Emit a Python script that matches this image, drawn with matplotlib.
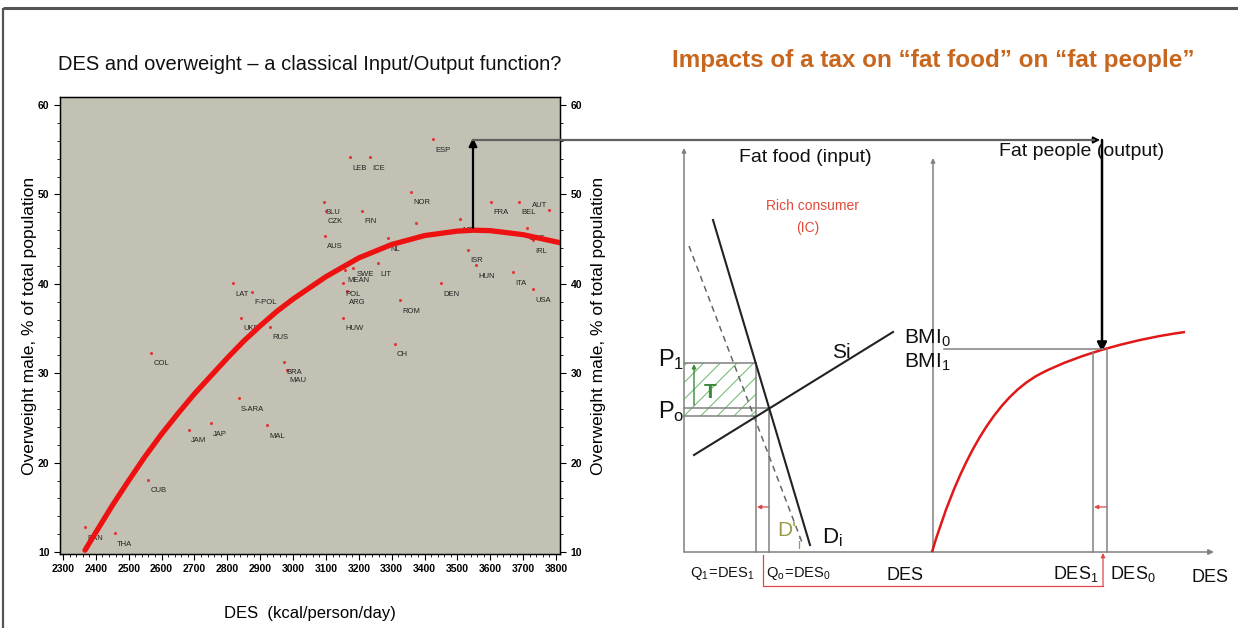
import matplotlib
matplotlib.use("Agg")
import matplotlib.pyplot as plt
from matplotlib.patches import Rectangle, FancyArrowPatch, PathPatch
from matplotlib.path import Path
from matplotlib.ticker import MultipleLocator

W, H = 1238, 628

# ---- Scatter: dietary energy supply vs. male overweight ----
countries = ["ESP", "LEB", "ICE", "NOR", "SLU", "CZK", "FIN", "AUS", "NL", "", "NZL",
             "FRA", "BEL", "AUT", "GRE", "IRL", "ISR", "HUN", "ITA", "USA", "DEN",
             "LIT", "MEAN", "SWE", "POL", "ARG", "HUW", "ROM", "CH", "LAT", "F-POL",
             "UKR", "RUS", "COL", "BRA", "MAU", "S-ARA", "JAP", "JAM", "MAL", "CUB",
             "BAN", "THA"]
des_kcal = [3426, 3173, 3234, 3359, 3094, 3100, 3210, 3097, 3289, 3374, 3508,
            3602, 3687, 3778, 3711, 3729, 3532, 3556, 3669, 3730, 3450,
            3258, 3158, 3182, 3152, 3164, 3152, 3325, 3310, 2817, 2875,
            2842, 2930, 2568, 2972, 2981, 2835, 2750, 2683, 2921, 2559,
            2367, 2458]
overweight_pct = [56.2, 54.2, 54.2, 50.3, 49.2, 48.2, 48.2, 45.4, 45.1, 46.8, 47.2,
                  49.2, 49.2, 48.3, 46.3, 44.9, 43.8, 42.1, 41.3, 39.4, 40.1,
                  42.3, 41.6, 41.8, 40.1, 39.2, 36.2, 38.2, 33.3, 40.1, 39.1,
                  36.2, 35.2, 32.3, 31.3, 30.4, 27.2, 24.4, 23.7, 24.2, 18.1,
                  12.8, 12.1]

# fitted input/output curve
curve_des = [2367, 2400, 2450, 2500, 2550, 2600, 2650, 2700, 2750, 2800, 2850,
             2900, 2950, 3000, 3100, 3200, 3300, 3400, 3500, 3550, 3600, 3700, 3812]
curve_ow = [10.2, 12.2, 15.2, 18.0, 20.7, 23.2, 25.5, 27.7, 29.7, 31.7, 33.6,
            35.3, 36.9, 38.3, 40.8, 42.9, 44.4, 45.4, 45.9, 46.0, 45.95, 45.5, 44.6]

x_ticks = list(range(2300, 3801, 100))
y_ticks = [10, 20, 30, 40, 50, 60]

# ---- Tax diagram (drawn in pixel space of the slide) ----
demand_x, demand_y = [713, 810], [220, 545]
demand_tax_x, demand_tax_y = [689, 803], [246, 545]
supply_x, supply_y = [694, 893], [455, 332]
bmi_path_vertices = [(932, 552), (955, 475), (990, 400), (1040, 374),
                     (1080, 353), (1140, 338), (1185, 332)]

NARROW = ["Liberation Sans Narrow", "Liberation Sans", "DejaVu Sans"]
SANS = ["Liberation Sans", "DejaVu Sans"]

plt.rcParams["hatch.linewidth"] = 0.7

fig = plt.figure(figsize=(W / 100, H / 100), dpi=100)
fig.patch.set_facecolor("white")

ax = fig.add_axes([60 / W, 1 - 554 / H, 500 / W, 457 / H])
ax.set_facecolor("#c3c1b3")
ax.plot(curve_des, curve_ow, color="#ee1111", lw=3.8, solid_capstyle="round",
        solid_joinstyle="round", zorder=3)
ax.scatter(des_kcal, overweight_pct, s=5, color="#e03838", lw=0, zorder=2)

label_style = {"AUT": ((-1, 3), "right"), "SWE": ((3, -5), "left")}
for name, x, y in zip(countries, des_kcal, overweight_pct):
    if not name:
        continue
    off, ha = label_style.get(name, ((1.5, -8), "left"))
    ax.annotate(name, (x, y), xytext=off, textcoords="offset points", ha=ha,
                va="center", fontsize=5.5, color="#222222", family=SANS, zorder=2)

ax.set_xlim(2291, 3812)
ax.set_ylim(9.78, 60.9)
ax.set_xticks(x_ticks)
ax.set_yticks(y_ticks)
ax.xaxis.set_minor_locator(MultipleLocator(20))
ax.yaxis.set_minor_locator(MultipleLocator(2))
ax.tick_params(which="major", direction="out", length=4, width=0.8, labelsize=7.5)
ax.tick_params(which="minor", direction="out", length=2.5, width=0.6)
for lab in ax.get_xticklabels() + ax.get_yticklabels():
    lab.set_family(NARROW)
    lab.set_fontweight("bold")
for sp in ax.spines.values():
    sp.set_color("black")
    sp.set_linewidth(1.0)

ax2 = ax.twinx()
ax2.set_ylim(ax.get_ylim())
ax2.set_yticks(y_ticks)
ax2.yaxis.set_minor_locator(MultipleLocator(2))
ax2.tick_params(which="major", direction="out", length=4, width=0.8, labelsize=7.5)
ax2.tick_params(which="minor", direction="out", length=2.5, width=0.6)
for lab in ax2.get_yticklabels():
    lab.set_family(NARROW)
    lab.set_fontweight("bold")

ylab = "Overweight male, % of total population"
ax.set_ylabel(ylab, fontsize=12.5, family=SANS)
ax.yaxis.set_label_coords(-0.046, 0.5)
ax2.set_ylabel(ylab, fontsize=12.5, family=SANS)
ax2.yaxis.set_label_coords(1.062, 0.5)
ax.set_xlabel("DES  (kcal/person/day)", fontsize=12, family=NARROW)
ax.xaxis.set_label_coords(0.5, -0.114)

# ---- overlay in slide pixel coordinates ----
ov = fig.add_axes([0, 0, 1, 1], zorder=5)
ov.set_xlim(0, W)
ov.set_ylim(H, 0)
ov.axis("off")
ov.patch.set_alpha(0)

# slide frame
ov.plot([3, W], [8, 8], color="#555555", lw=2.2, solid_capstyle="butt")
ov.plot([3, 3], [8, H], color="#555555", lw=1.6, solid_capstyle="butt")

ov.text(310, 65, "DES and overweight \u2013 a classical Input/Output function?",
        ha="center", va="center", fontsize=14.5, family=NARROW, color="#111111")
ov.text(933, 60, "Impacts of a tax on \u201cfat food\u201d on \u201cfat people\u201d",
        ha="center", va="center", fontsize=17.5, family=NARROW, fontweight="bold",
        color="#c8661e")

GRAY = "#808080"


def arrow(x0, y0, x1, y1, color, lw=1.2, head=8):
    ov.add_patch(FancyArrowPatch((x0, y0), (x1, y1), arrowstyle="-|>",
                                 mutation_scale=head, color=color, lw=lw,
                                 shrinkA=0, shrinkB=0))


# link from curve peak to the output panel
arrow(473, 228, 473, 138, "black", lw=1.6, head=12)
ov.plot([473, 1094], [140, 140], color="#606060", lw=1.6)
arrow(1088, 140, 1100, 140, "black", lw=1.2, head=10)
arrow(1102, 140, 1102, 352, "black", lw=1.8, head=14)

# axes of both panels
arrow(684, 552, 684, 148, GRAY, lw=1.1, head=6)
arrow(933, 552, 933, 158, GRAY, lw=1.1, head=6)
arrow(684, 552, 1214, 552, GRAY, lw=1.1, head=8)

# tax wedge
ov.add_patch(Rectangle((684, 363), 72, 53, facecolor="none", edgecolor="#6cb46c",
                       hatch="//", lw=0))
for yy, x1 in [(363, 756), (408, 769), (416, 756)]:
    ov.plot([684, x1], [yy, yy], color=GRAY, lw=1.1)
ov.plot([756, 756], [363, 552], color=GRAY, lw=1.1)
ov.plot([769, 769], [408, 552], color=GRAY, lw=1.1)
arrow(694, 405, 694, 364, "#3a8a3a", lw=1.0, head=6)

ov.plot(demand_x, demand_y, color="#222222", lw=1.5)
ov.plot(demand_tax_x, demand_tax_y, color="#666666", lw=1.1, ls=(0, (4, 3)))
ov.plot(supply_x, supply_y, color="#222222", lw=1.5)

# output panel: saturating BMI response
bmi_codes = [Path.MOVETO] + [Path.CURVE4] * 6
ov.add_patch(PathPatch(Path(bmi_path_vertices, bmi_codes), facecolor="none",
                       edgecolor="#e01818", lw=1.8))
ov.plot([944, 1103], [349, 349], color=GRAY, lw=1.1)
ov.plot([1093, 1093], [352, 552], color=GRAY, lw=1.1)
ov.plot([1107, 1107], [349, 552], color=GRAY, lw=1.1)

# red quantity shift markers
RED = "#e04848"
arrow(769, 507, 757, 507, RED, lw=0.9, head=6)
arrow(1107, 507, 1094, 507, RED, lw=0.9, head=6)
ov.plot([763, 763, 1103], [555, 586, 586], color=RED, lw=0.9)
arrow(1103, 586, 1103, 553, RED, lw=0.9, head=6)

txt = dict(family=SANS, color="#111111", va="center")
ov.text(805, 158, "Fat food (input)", ha="center", fontsize=14, **txt)
ov.text(1082, 152, "Fat people (output)", ha="center", fontsize=14, **txt)
ov.text(812, 206, "Rich consumer", ha="center", fontsize=10, family=SANS,
        color="#e04a3a", va="center")
ov.text(808, 228, "(IC)", ha="center", fontsize=10, family=SANS, color="#e04a3a",
        va="center")
ov.text(658, 360, r"$\mathregular{P_1}$", ha="left", fontsize=17, **txt)
ov.text(658, 412, r"$\mathregular{P_o}$", ha="left", fontsize=17, **txt)
ov.text(704, 392, "T", ha="left", fontsize=15, family=SANS, color="#3a8a3a",
        va="center", fontweight="bold")
ov.text(832, 353, "Si", ha="left", fontsize=15, **txt)
ov.text(822, 538, r"$\mathregular{D_i}$", ha="left", fontsize=16, **txt)
OLIVE = "#9a9a48"
ov.text(796, 531, "D'", ha="right", fontsize=15, family=SANS, color=OLIVE,
        va="center")
ov.text(797, 538, "i", ha="left", fontsize=10, family=SANS, color=OLIVE,
        va="top", zorder=10)
ov.text(904, 338, r"$\mathregular{BMI_0}$", ha="left", fontsize=15, **txt)
ov.text(904, 362, r"$\mathregular{BMI_1}$", ha="left", fontsize=15, **txt)
ov.text(722, 573, r"$\mathregular{Q_1\!=\!DES_1}$", ha="center", fontsize=10.5, **txt)
ov.text(798, 573, r"$\mathregular{Q_o\!=\!DES_0}$", ha="center", fontsize=10.5, **txt)
ov.text(905, 576, "DES", ha="center", fontsize=13, **txt)
ov.text(1076, 574, r"$\mathregular{DES_1}$", ha="center", fontsize=13, **txt)
ov.text(1133, 574, r"$\mathregular{DES_0}$", ha="center", fontsize=13, **txt)
ov.text(1210, 577, "DES", ha="center", fontsize=13, **txt)

fig.savefig("out.png", dpi=100, facecolor="white")
